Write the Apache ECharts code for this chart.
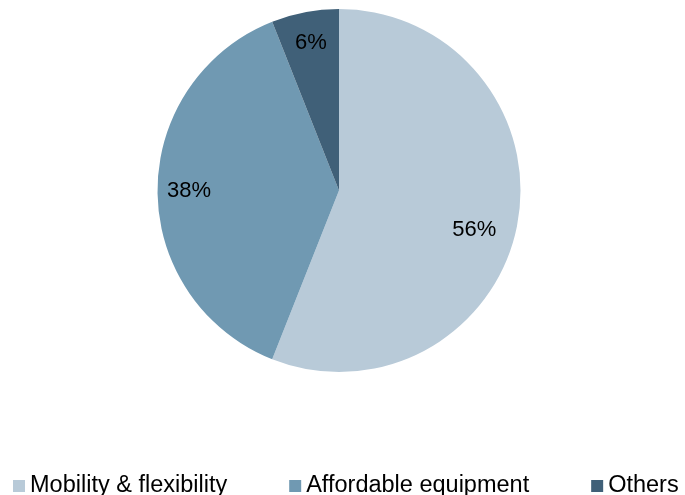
<!DOCTYPE html>
<html>
<head>
<meta charset="utf-8">
<script src="https://cdn.jsdelivr.net/npm/echarts@6/dist/echarts.min.js"></script>
<style>
  html, body { margin: 0; padding: 0; background: #ffffff; }
  #chart { width: 685px; height: 495px; }
</style>
</head>
<body>
<div id="chart"></div>
<script>
// Share of responses by reason
const categories = ['Mobility & flexibility', 'Affordable equipment', 'Others'];
const shares = [56, 38, 6];
const colors = ['#b8cad8', '#7099b2', '#406078'];

const FONT = 'Liberation Sans, Arial, sans-serif';

const pieData = categories.map((name, i) => ({ name, value: shares[i] }));
// label data: the largest slice's label sits a little lower and further in
const labelData = pieData.map((d, i) => i === 0
  ? Object.assign({}, d, { label: { offset: [-12, 11] } })
  : d);

const chart = echarts.init(document.getElementById('chart'));
chart.setOption({
  animation: false,
  color: colors,
  legend: {
    data: categories,
    left: 8,
    top: 469,
    icon: 'rect',
    itemWidth: 12,
    itemHeight: 12,
    itemGap: 62,
    textStyle: { fontFamily: FONT, fontSize: 23.5, color: '#000' }
  },
  series: [
    {
      // visible slices
      type: 'pie',
      center: [339, 190.5],
      radius: [0, 181.5],
      startAngle: 90,
      clockwise: true,
      label: { show: false },
      labelLine: { show: false },
      silent: true,
      data: pieData
    },
    {
      // percentage labels placed inside each slice
      type: 'pie',
      center: [339, 190.5],
      radius: [116, 178],
      startAngle: 90,
      clockwise: true,
      itemStyle: { color: 'rgba(0,0,0,0)' },
      label: {
        show: true,
        position: 'inside',
        formatter: '{c}%',
        fontFamily: FONT,
        fontSize: 22,
        color: '#000'
      },
      labelLine: { show: false },
      silent: true,
      legendHoverLink: false,
      data: labelData
    }
  ]
});
</script>
</body>
</html>
